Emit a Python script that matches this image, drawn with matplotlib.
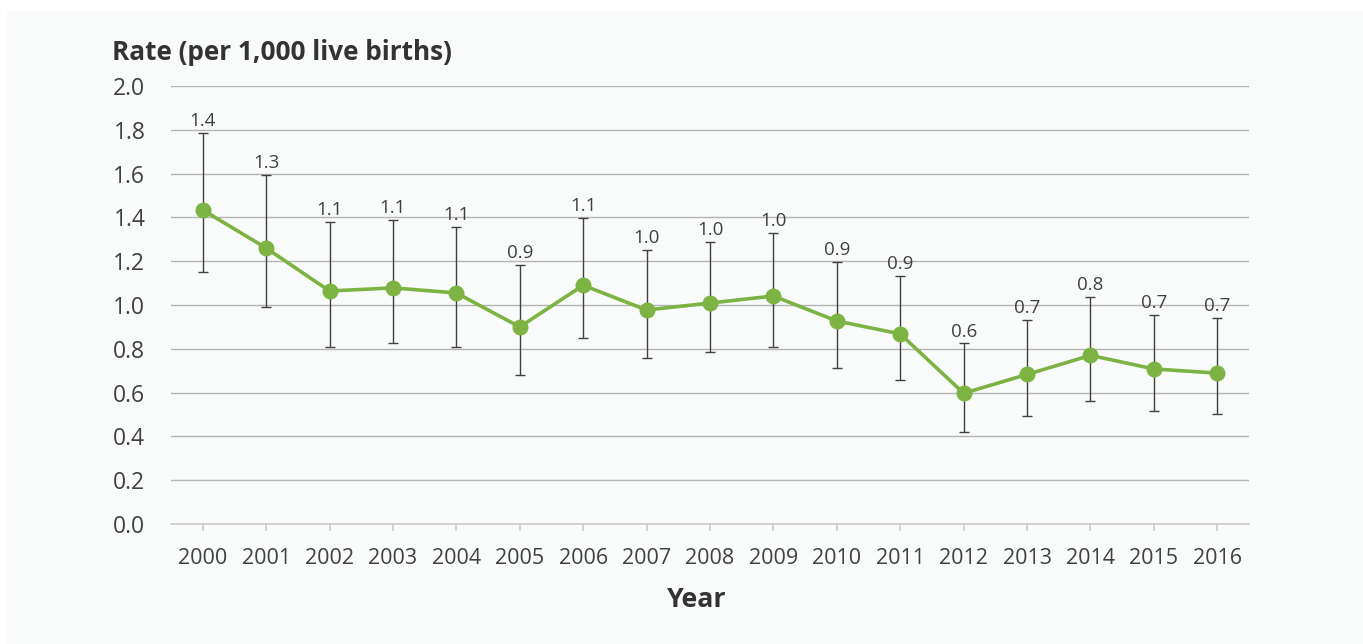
import matplotlib
matplotlib.use("Agg")
import matplotlib.pyplot as plt
from matplotlib.patches import Rectangle

years = ["2000", "2001", "2002", "2003", "2004", "2005", "2006", "2007", "2008",
         "2009", "2010", "2011", "2012", "2013", "2014", "2015", "2016"]
rate = [1.434, 1.26, 1.064, 1.078, 1.055, 0.90, 1.09, 0.977, 1.009,
        1.041, 0.927, 0.868, 0.597, 0.683, 0.770, 0.708, 0.689]
ci_upper = [1.785, 1.594, 1.379, 1.388, 1.356, 1.183, 1.397, 1.251, 1.288,
            1.329, 1.196, 1.132, 0.825, 0.932, 1.037, 0.954, 0.942]
ci_lower = [1.151, 0.991, 0.808, 0.826, 0.808, 0.680, 0.849, 0.758, 0.785,
            0.808, 0.712, 0.658, 0.421, 0.493, 0.563, 0.516, 0.504]
yticks = [0.0, 0.2, 0.4, 0.6, 0.8, 1.0, 1.2, 1.4, 1.6, 1.8, 2.0]

plt.rcParams['font.family'] = ['Open Sans', 'DejaVu Sans']

W, H = 1363, 644
fig = plt.figure(figsize=(W / 100, H / 100), dpi=100)
fig.patch.set_facecolor("white")
bg = Rectangle((7 / W, 0), 1 - 7 / W, 1 - 11 / H, transform=fig.transFigure,
               facecolor="#f9fbfb", edgecolor="none", zorder=-10)
fig.add_artist(bg)

ax = fig.add_axes([171 / W, 1 - 524 / H, (1249 - 171) / W, (524 - 86) / H])
ax.set_facecolor("none")
ax.set_zorder(1)

x = list(range(len(years)))
yerr = [[r - l for r, l in zip(rate, ci_lower)], [u - r for r, u in zip(rate, ci_upper)]]
ax.errorbar(x, rate, yerr=yerr, fmt="none", ecolor="#404040", elinewidth=1.0,
            capsize=3.6, capthick=1.0, zorder=2)
ax.plot(x, rate, color="#7cb342", linewidth=2.6, marker="o", markersize=11.5,
        markeredgewidth=0, zorder=3)

for xi, r, u in zip(x, rate, ci_upper):
    ax.annotate(f"{r:.1f}", (xi, u), xytext=(0, 2), textcoords="offset points",
                ha="center", va="bottom", fontsize=13.5, color="#404040")

ax.set_xlim(-0.5, len(years) - 0.5)
ax.set_ylim(0, 2.0)
ax.set_yticks(yticks)
ax.set_yticklabels([f"{v:.1f}" for v in yticks])
ax.set_xticks(x)
ax.set_xticklabels(years)
ax.yaxis.grid(True, color="#b4b4b4", linewidth=1.0)
ax.set_axisbelow(True)
for s in ["left", "right", "top"]:
    ax.spines[s].set_visible(False)
ax.spines["bottom"].set_color("#cccccc")
ax.spines["bottom"].set_linewidth(1.2)
ax.tick_params(axis="y", length=0, labelsize=16.5, labelcolor="#404040", pad=18.5)
ax.tick_params(axis="x", length=5, width=1.2, color="#cccccc", labelsize=15.5,
               labelcolor="#404040", pad=12)

fig.text(112 / W, 1 - 52 / H, "Rate (per 1,000 live births)", fontsize=18.8,
         fontweight="bold", color="#333333", ha="left", va="center")
fig.text(697 / W, 1 - 600 / H, "Year", fontsize=19.3, fontweight="bold",
         color="#333333", ha="center", va="center")

fig.savefig("out.png", dpi=100, facecolor=fig.get_facecolor())
